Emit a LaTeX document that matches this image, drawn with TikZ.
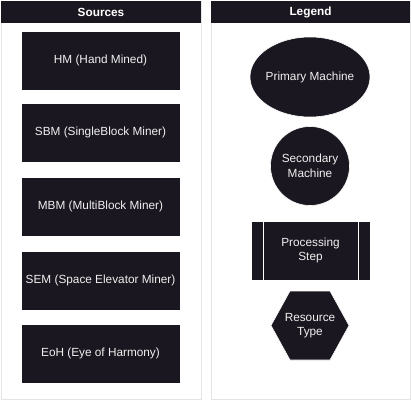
\documentclass[tikz,border=0pt]{standalone}
\usepackage{fontspec}
\setmainfont{Liberation Sans}
\usetikzlibrary{shapes.geometric}
\definecolor{dark}{HTML}{1A1720}
\definecolor{txt}{HTML}{F0F0F0}
\definecolor{pborder}{HTML}{E4E4E4}
\tikzset{
  panel/.style={draw=pborder, line width=0.8pt, fill=white},
  header/.style={fill=dark, draw=none, text=white, font=\fontsize{11.8}{13}\selectfont\bfseries, inner sep=0pt},
  srcbox/.style={fill=dark, draw=white, line width=0.6pt, text=txt, font=\fontsize{11.8}{13}\selectfont, minimum width=159pt, minimum height=59pt, inner sep=0pt},
  legtext/.style={text=txt, font=\fontsize{11.8}{14.5}\selectfont, align=center},
}
\begin{document}
\begin{tikzpicture}[x=1pt,y=-1pt]
\useasboundingbox (0,0) rectangle (411,401);
% panels
\draw[panel] (1,1) rectangle (201,399);
\draw[panel] (211,1) rectangle (410,399);
\node[header, minimum width=200pt, minimum height=22pt] (hsrc) at (101,12) {Sources};
\node[header, minimum width=199pt, minimum height=22pt] (hleg) at (310.5,12) {Legend};
% sources
\node[srcbox] (hm) at (100.5,60.5) {HM (Hand Mined)};
\node[srcbox] (sbm) at (100.5,132.5) {SBM (SingleBlock Miner)};
\node[srcbox] (mbm) at (100.5,206.5) {MBM (MultiBlock Miner)};
\node[srcbox] (sem) at (100.5,280.5) {SEM (Space Elevator Miner)};
\node[srcbox] (eoh) at (100.5,353.5) {EoH (Eye of Harmony)};
% legend
\draw[fill=dark, draw=white, line width=0.6pt] (310,77) ellipse [x radius=60, y radius=40];
\node[legtext] (prim) at (310,77) {Primary Machine};
\draw[fill=dark, draw=white, line width=0.6pt] (310,166) circle [radius=39.5];
\node[legtext] (sec) at (310,166) {Secondary\\Machine};
\draw[fill=dark, draw=white, line width=0.6pt] (251,221) rectangle (370,280);
\draw[white, line width=0.8pt] (263,221) -- (263,280);
\draw[white, line width=0.8pt] (358,221) -- (358,280);
\node[legtext] (proc) at (310.5,250.5) {Processing\\Step};
\draw[fill=dark, draw=white, line width=0.6pt] (271,325.5) -- (290,291) -- (330,291) -- (349,325.5) -- (330,360) -- (290,360) -- cycle;
\node[legtext] (res) at (310,325.5) {Resource\\Type};
\end{tikzpicture}
\end{document}
